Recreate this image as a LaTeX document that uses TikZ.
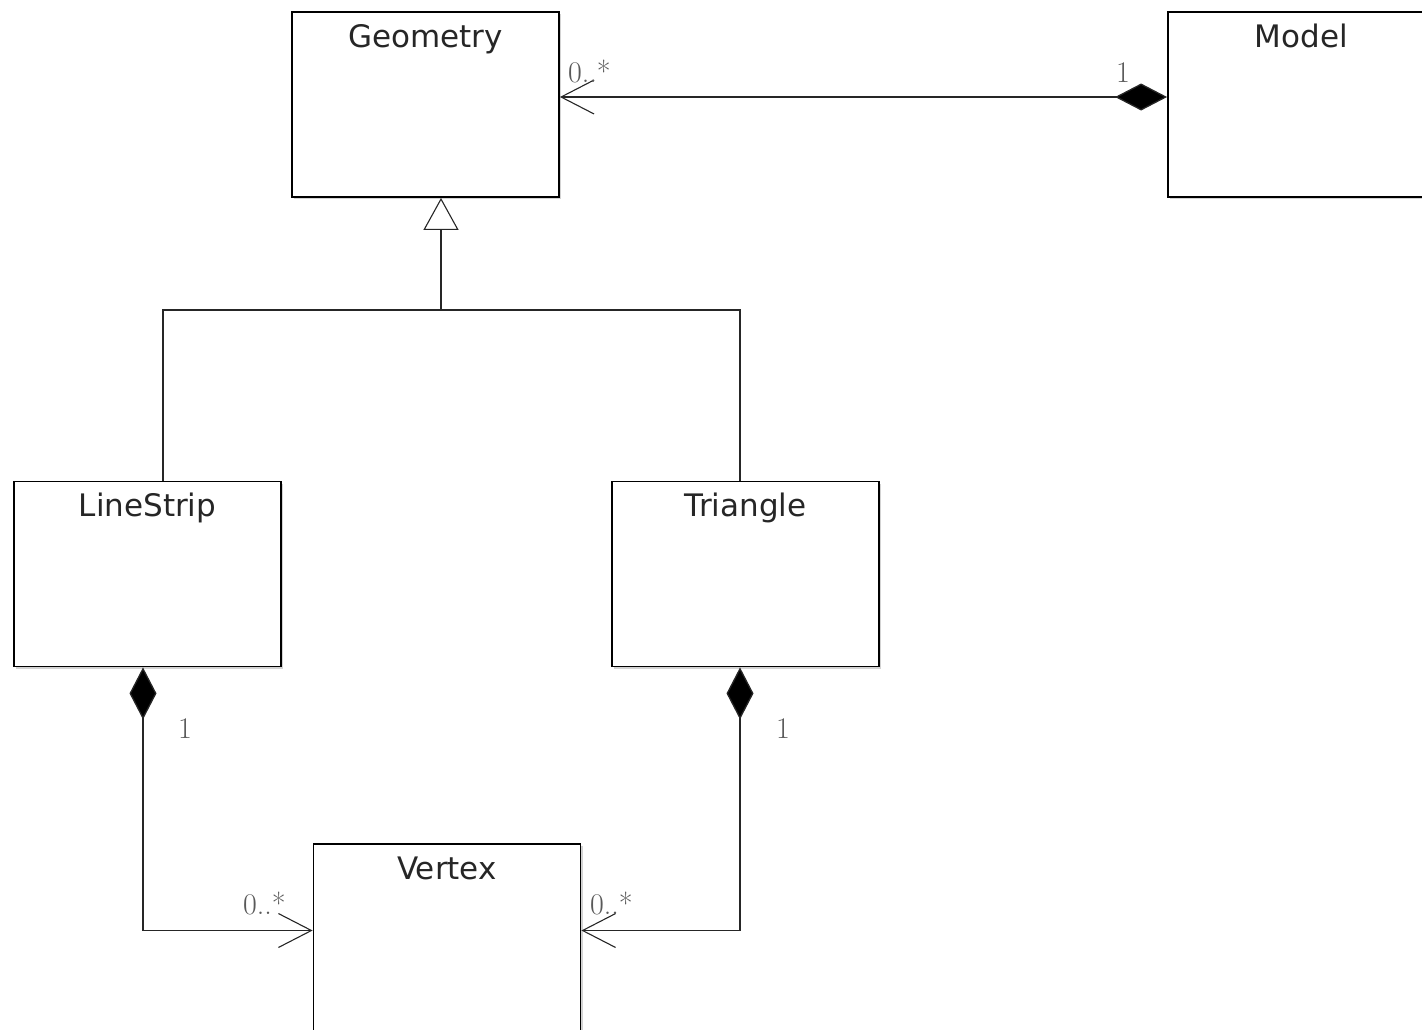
\documentclass[tikz,border=0pt]{standalone}
\usepackage{fontspec}
\newfontfamily\classfont{DejaVu Sans}
\usetikzlibrary{arrows.meta,shadows}

\tikzset{
  classbox/.style={draw=black, line width=1.8pt, fill=white,
    minimum width=267pt, minimum height=185pt, inner sep=0pt,
    drop shadow={shadow xshift=2pt, shadow yshift=-2pt, opacity=0.35}},
  classname/.style={anchor=base, inner sep=0pt, text=black!85,
    font=\classfont\fontsize{31}{36}\selectfont},
  mult/.style={anchor=base west, inner sep=0pt, text=black!65,
    font=\fontsize{30}{34}\selectfont},
  link/.style={draw=black!85, line width=1.3pt},
  composite/.style={{Diamond[length=52pt, width=27pt, fill=black]}-{Straight Barb[length=33pt, width=34pt, line width=1.1pt]}},
  gentip/.style={-{Triangle[open, length=32pt, width=35pt, fill=white, line width=1.1pt]}}
}

\begin{document}
\begin{tikzpicture}[x=1pt, y=-1pt]
  \useasboundingbox (0,0) rectangle (1422,1029);

  % classes
  \node[classbox] (geo)   at (425.5,104.5) {};
  \node[classbox] (model) at (1301.5,104.5) {};
  \node[classbox] (ls)    at (147.5,574)   {};
  \node[classbox] (tri)   at (745.5,574)   {};
  \node[classbox, minimum height=190pt] (vx) at (447,939) {};

  \node[classname] (geoT)   at ([yshift=-36pt]geo.north)   {Geometry};
  \node[classname] (modelT) at ([yshift=-36pt]model.north) {Model};
  \node[classname] (lsT)    at ([yshift=-36pt]ls.north)    {LineStrip};
  \node[classname] (triT)   at ([yshift=-36pt]tri.north)   {Triangle};
  \node[classname] (vxT)    at ([yshift=-36pt]vx.north)    {Vertex};

  % Model owns its geometries
  \draw[link, composite] ([yshift=7.5pt]model.west) -- ([yshift=7.5pt]geo.east);

  % generalisation of LineStrip and Triangle into Geometry
  \coordinate (bus) at (441,310);
  \draw[link] ([xshift=15.5pt]ls.north) |- (bus) -| ([xshift=-5.5pt]tri.north);
  \draw[link, gentip] (bus) -- ([xshift=15.5pt]geo.south);

  % composition of vertices
  \draw[link, composite] ([xshift=-4.5pt]ls.south) |- ([yshift=8.5pt]vx.west);
  \draw[link, composite] ([xshift=-5.5pt]tri.south) |- ([yshift=8.5pt]vx.east);

  % multiplicities
  \node[mult] (mGeo)   at (568,82)   {0..*};
  \node[mult] (mModel) at (1116,82)  {1};
  \node[mult] (mLs)    at (178,738)  {1};
  \node[mult] (mTri)   at (776,738)  {1};
  \node[mult] (mVxL)   at (243,914)  {0..*};
  \node[mult] (mVxR)   at (590,914)  {0..*};
\end{tikzpicture}
\end{document}
